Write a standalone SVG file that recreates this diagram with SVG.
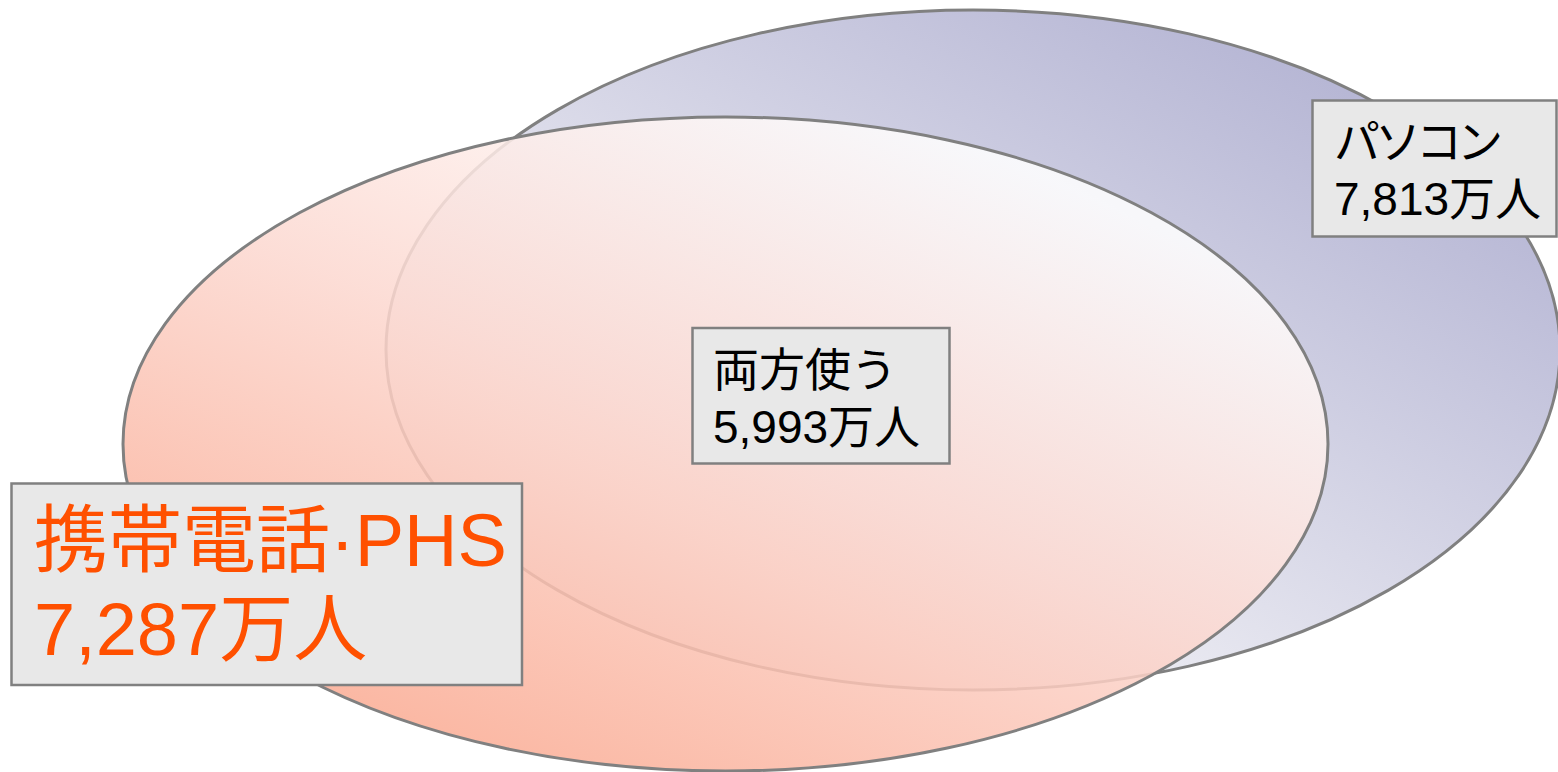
<svg xmlns="http://www.w3.org/2000/svg" width="1558" height="772" viewBox="0 0 1558 772">
  <defs>
    <linearGradient id="gBlue" gradientUnits="userSpaceOnUse" x1="1400" y1="0" x2="1000" y2="700">
      <stop offset="0" stop-color="#AEAED0"/>
      <stop offset="1" stop-color="#F2F2F6"/>
    </linearGradient>
    <linearGradient id="gPink" gradientUnits="userSpaceOnUse" x1="250" y1="720" x2="556" y2="-24">
      <stop offset="0" stop-color="#FAA68C"/>
      <stop offset="0.55" stop-color="#FCD8D0"/>
      <stop offset="1" stop-color="#FFFFFF"/>
    </linearGradient>
    <style>
      .ell { stroke: #808080; stroke-width: 3; }
      .box { fill: #E8E8E8; stroke: #808080; stroke-width: 2.5; }
      .lbl { font-family: "Liberation Sans", "Noto Sans CJK JP", sans-serif; font-size: 46px; fill: #000000; }
      .big { font-family: "Liberation Sans", "Noto Sans CJK JP", sans-serif; font-size: 74px; fill: #FF5000; }
    </style>
  </defs>
  <rect width="1558" height="772" fill="#FFFFFF"/>
  <g id="pc-set">
    <ellipse class="ell" cx="973" cy="350" rx="587" ry="340" fill="url(#gBlue)"/>
  </g>
  <g id="phone-set">
    <ellipse class="ell" cx="725.5" cy="444" rx="602.5" ry="327" fill="url(#gPink)" fill-opacity="0.86"/>
  </g>
  <g id="connectors"/>
  <g id="label-pc">
    <rect class="box" x="1312.5" y="100.5" width="244" height="136"/>
    <text class="lbl" x="1334" y="158" letter-spacing="-5">パソコン</text>
    <text class="lbl" x="1334" y="215">7,813万人</text>
  </g>
  <g id="label-both">
    <rect class="box" x="692.5" y="328" width="257" height="135.5"/>
    <text class="lbl" x="713" y="386">両方使う</text>
    <text class="lbl" x="713" y="443">5,993万人</text>
  </g>
  <g id="label-phone">
    <rect class="box" x="11.5" y="483.5" width="510.5" height="201.5"/>
    <text class="big" x="34" y="566">携帯電話·PHS</text>
    <text class="big" x="34" y="655">7,287万人</text>
  </g>
</svg>
